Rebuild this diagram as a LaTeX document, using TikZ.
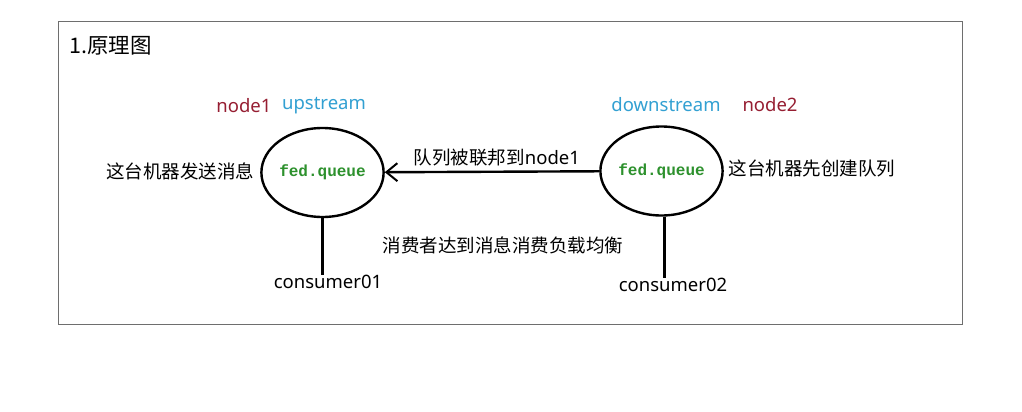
\documentclass[tikz,border=0pt]{standalone}
\usepackage{fontspec}
\setmainfont{Noto Sans}
\newfontfamily\cjk{Noto Sans CJK SC}
\newfontfamily\monob{Liberation Mono}[BoldFont={Liberation Mono Bold}]
\usetikzlibrary{shapes.geometric,arrows.meta}
\definecolor{nodered}{RGB}{150,30,50}
\definecolor{streamblue}{RGB}{50,160,210}
\definecolor{queuegreen}{RGB}{45,145,45}
\definecolor{framegray}{RGB}{110,110,110}
\tikzset{
  queue/.style={draw=black,line width=2.4pt,ellipse,minimum width=117pt,minimum height=89pt,inner sep=0pt,
    font=\monob\bfseries\fontsize{16}{16}\selectfont,text=queuegreen},
  lbl/.style={inner sep=0pt,font=\fontsize{18.5}{18.5}\selectfont},
  cjklbl/.style={inner sep=0pt,font=\cjk\fontsize{18.5}{18.5}\selectfont},
  conn/.style={line width=2.4pt},
}
\begin{document}
\begin{tikzpicture}[x=1pt,y=-1pt]
\useasboundingbox (0,0) rectangle (1022,412);
\fill[white] (0,0) rectangle (1022,412);
\draw[framegray,line width=1pt] (58,22) rectangle (962,324);
\node[cjklbl,anchor=west,font=\cjk\fontsize{21.5}{21.5}\selectfont] (title) at (69,46) {1.原理图};
\node[queue] (e1) at (322.5,172.5) {fed.queue};
\node[queue] (e2) at (661.5,171) {fed.queue};
\node[lbl,text=nodered] (n1) at (244,106) {node1};
\node[lbl,text=streamblue] (up) at (324,106) {upstream};
\node[lbl,text=streamblue] (down) at (666,105) {downstream};
\node[lbl,text=nodered] (n2) at (770,105) {node2};
\node[cjklbl] (send) at (180,171) {这台机器发送消息};
\node[cjklbl] (create) at (812,168) {这台机器先创建队列};
\node[lbl] (fedlbl) at (497,158) {{\cjk 队列被联邦到}node1};
\node[cjklbl] (balance) at (503,245) {消费者达到消息消费负载均衡};
\node[lbl] (c1) at (328,282) {consumer01};
\node[lbl] (c2) at (673,285) {consumer02};
\draw[conn,-{Straight Barb[length=11pt,width=18pt,line width=2pt]}] (e2) -- (e1);
\draw[conn] (e1.south) -- (e1.south |- c1.north);
\draw[conn] ([xshift=3pt]e2.south) -- ([xshift=3pt]e2.south |- c2.north);
\end{tikzpicture}
\end{document}
